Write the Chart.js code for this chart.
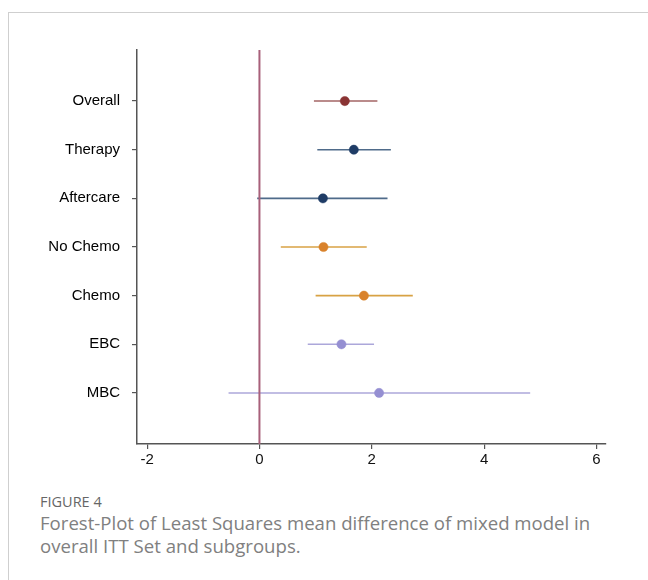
<!DOCTYPE html>
<html>
<head>
<meta charset="utf-8">
<script src="https://cdn.jsdelivr.net/npm/chart.js@4.4.1/dist/chart.umd.min.js"></script>
<style>
  body { margin: 0; background: #fff; width: 648px; height: 580px; overflow: hidden; position: relative; }
  .card { position: absolute; left: 8px; top: 12px; right: 0; bottom: 0; border-top: 1px solid #cfcfcf; border-left: 1px solid #cfcfcf; }
  #wrap { position: absolute; left: 0; top: 0; width: 648px; height: 470px; }
  .fig { position: absolute; left: 40px; top: 492px; font-family: "Open Sans", sans-serif; font-size: 14.5px; color: #666; }
  .cap { position: absolute; left: 40px; top: 511px; width: 575px; font-family: "Open Sans", sans-serif; font-size: 18.6px; line-height: 23px; color: #808080; }
</style>
</head>
<body>
<div class="card"></div>
<div id="wrap"><canvas id="forest"></canvas></div>
<div class="fig">FIGURE 4</div>
<div class="cap">Forest-Plot of Least Squares mean difference of mixed model in overall ITT Set and subgroups.</div>
<script>
// forest plot data
const groups = ['Overall', 'Therapy', 'Aftercare', 'No Chemo', 'Chemo', 'EBC', 'MBC'];
const estimates = [1.52, 1.68, 1.13, 1.14, 1.86, 1.46, 2.13];
const lower = [0.97, 1.03, -0.04, 0.38, 1.00, 0.86, -0.55];
const upper = [2.10, 2.34, 2.28, 1.91, 2.73, 2.04, 4.82];
const xTicks = [-2, 0, 2, 4, 6];
const refValue = 0;

const pointColors = ['#8a3434', '#1f3c66', '#1f3c66', '#d9822b', '#d9822b', '#958fd2', '#958fd2'];
const lineColors = ['#a36464', '#4f6b8a', '#4f6b8a', '#d8a244', '#d8a244', '#aca7da', '#aca7da'];

const yMin = -1.05, yMax = 7.05;

const datasets = [];
// point estimates (drawn on top)
datasets.push({
  data: estimates.map((v, i) => ({ x: v, y: i })),
  pointRadius: 4.6,
  pointBackgroundColor: pointColors,
  pointBorderColor: pointColors,
  pointBorderWidth: 0.5,
  showLine: false,
  order: 0
});
// reference line at zero
datasets.push({
  data: [{ x: refValue, y: yMin }, { x: refValue, y: yMax }],
  borderColor: '#a8607a',
  borderWidth: 2,
  pointRadius: 0,
  showLine: true,
  order: 1
});
// confidence intervals
groups.forEach((g, i) => {
  datasets.push({
    data: [{ x: lower[i], y: i }, { x: upper[i], y: i }],
    borderColor: lineColors[i],
    borderWidth: 1.6,
    pointRadius: 0,
    showLine: true,
    order: 2
  });
});

new Chart(document.getElementById('forest'), {
  type: 'scatter',
  data: { datasets: datasets },
  options: {
    responsive: true,
    maintainAspectRatio: false,
    animation: false,
    layout: { padding: { left: 0, top: 50, right: 42, bottom: 0 } },
    plugins: { legend: { display: false }, tooltip: { enabled: false } },
    scales: {
      x: {
        type: 'linear',
        min: -2.18,
        max: 6.17,
        afterBuildTicks: s => { s.ticks = xTicks.map(v => ({ value: v })); },
        afterFit: s => { s.height = 26; },
        grid: { drawOnChartArea: false, tickLength: 5, color: '#555', lineWidth: 1.2 },
        border: { display: true, color: '#555', width: 1.5 },
        ticks: { padding: 2, color: '#111', font: { family: 'Liberation Sans, Arial', size: 15 } }
      },
      y: {
        type: 'linear',
        reverse: true,
        min: yMin,
        max: yMax,
        afterBuildTicks: s => { s.ticks = groups.map((g, i) => ({ value: i })); },
        afterFit: s => { s.width = 137; },
        grid: { drawOnChartArea: false, tickLength: 5, color: '#555', lineWidth: 1.2 },
        border: { display: true, color: '#555', width: 1.5 },
        ticks: {
          autoSkip: false,
          padding: 12,
          color: '#000',
          font: { family: 'Liberation Sans, Arial', size: 15 },
          callback: v => groups[v]
        }
      }
    }
  }
});
</script>
</body>
</html>
